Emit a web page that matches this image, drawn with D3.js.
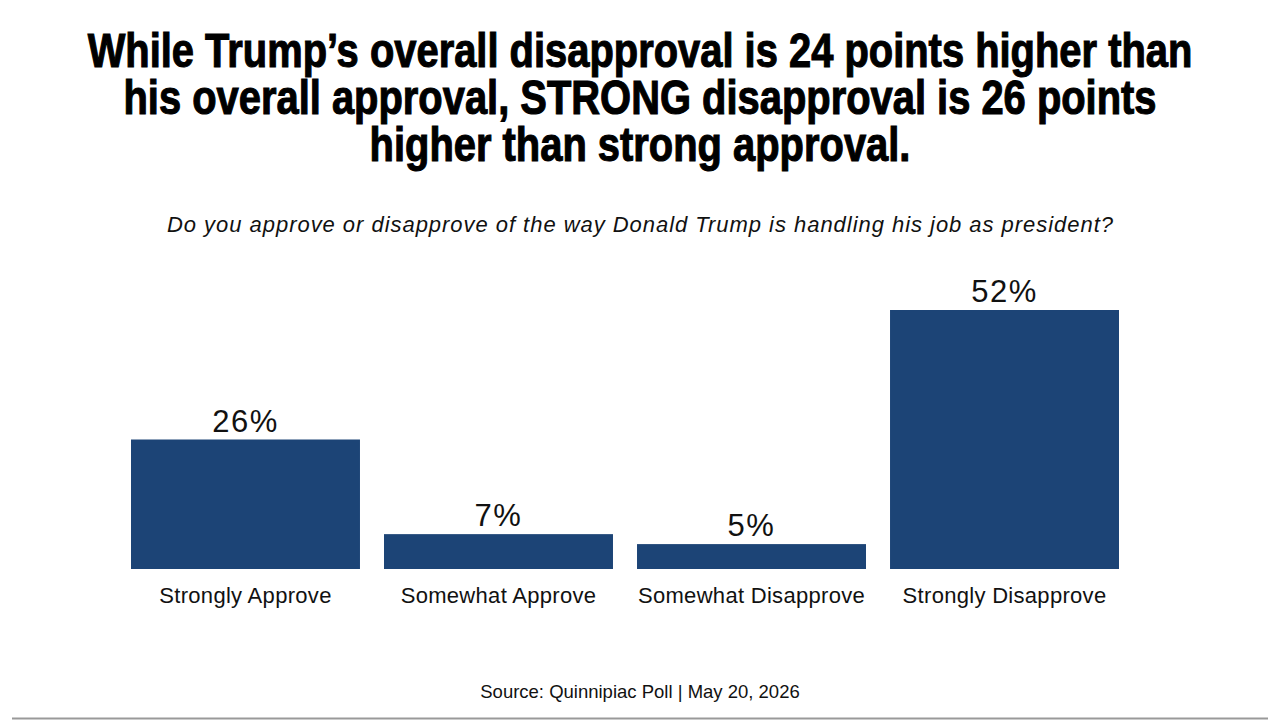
<!DOCTYPE html>
<html>
<head>
<meta charset="utf-8">
<script src="https://cdn.jsdelivr.net/npm/d3@7"></script>
<style>
  html, body { margin: 0; padding: 0; background: #fff; }
  svg { display: block; }
</style>
</head>
<body>
<div id="chart"></div>
<script>
const categories = ["Strongly Approve", "Somewhat Approve", "Somewhat Disapprove", "Strongly Disapprove"];
const values = [26, 7, 5, 52];
const titleLines = [
    "While Trump\u2019s overall disapproval is 24 points higher than",
    "his overall approval, STRONG disapproval is 26 points",
    "higher than strong approval."
];
const subtitle = "Do you approve or disapprove of the way Donald Trump is handling his job as president?";
const source = "Source: Quinnipiac Poll | May 20, 2026";

const width = 1280;
const height = 720;
const barColor = "#1c4476";
const font = "'Liberation Sans', Arial, sans-serif";

const svg = d3.select("#chart").append("svg")
    .attr("width", width)
    .attr("height", height);

// title - squeeze horizontally to look condensed
const title = svg.append("g").attr("class", "title");
const titleText = title.selectAll("text")
    .data(titleLines)
    .join("text")
    .attr("text-anchor", "middle")
    .style("font-family", font)
    .style("font-weight", "bold")
    .style("font-size", "47px")
    .style("fill", "#000")
    .style("stroke", "#000")
    .style("stroke-width", 1.1)
    .text(d => d);

const firstWidth = titleText.node().getComputedTextLength();
const sx = 1105 / firstWidth;
titleText.attr("transform", (d, k) => `translate(640,${67 + k * 47}) scale(${sx},1.02)`);

svg.append("text")
    .attr("x", 640)
    .attr("y", 232)
    .attr("text-anchor", "middle")
    .style("font-family", font)
    .style("font-style", "italic")
    .style("font-size", "22px")
    .style("fill", "#111")
    .attr("textLength", 946)
    .attr("lengthAdjust", "spacing")
    .text(subtitle);

// scales
const x = d3.scaleBand()
    .domain(categories)
    .range([131, 1119])
    .paddingInner(0.095)
    .paddingOuter(0);

const y = d3.scaleLinear()
    .domain([0, 52])
    .range([569, 310]);

const data = categories.map((c, k) => ({ cat: c, val: values[k] }));

svg.append("g").selectAll("rect")
    .data(data)
    .join("rect")
    .attr("x", d => x(d.cat))
    .attr("y", d => y(d.val))
    .attr("width", x.bandwidth())
    .attr("height", d => y(0) - y(d.val))
    .attr("fill", barColor);

svg.append("g").selectAll("text")
    .data(data)
    .join("text")
    .attr("x", d => x(d.cat) + x.bandwidth() / 2)
    .attr("y", d => y(d.val) - 8)
    .attr("text-anchor", "middle")
    .style("font-family", font)
    .style("font-size", "31px")
    .style("letter-spacing", "1.5px")
    .style("fill", "#111")
    .text(d => d.val + "%");

// category axis
const xAxis = svg.append("g")
    .attr("transform", `translate(0,${y(0)})`)
    .call(d3.axisBottom(x).tickSize(0).tickPadding(18));
xAxis.select(".domain").remove();
xAxis.selectAll("text")
    .style("font-family", font)
    .style("font-size", "22px")
    .style("letter-spacing", "0.3px")
    .style("fill", "#111");

svg.append("text")
    .attr("x", 640)
    .attr("y", 698)
    .attr("text-anchor", "middle")
    .style("font-family", font)
    .style("font-size", "18.5px")
    .style("fill", "#111")
    .text(source);

svg.append("line")
    .attr("x1", 12)
    .attr("x2", 1268)
    .attr("y1", 718.5)
    .attr("y2", 718.5)
    .attr("stroke", "#999")
    .attr("stroke-width", 2);
</script>
</body>
</html>
